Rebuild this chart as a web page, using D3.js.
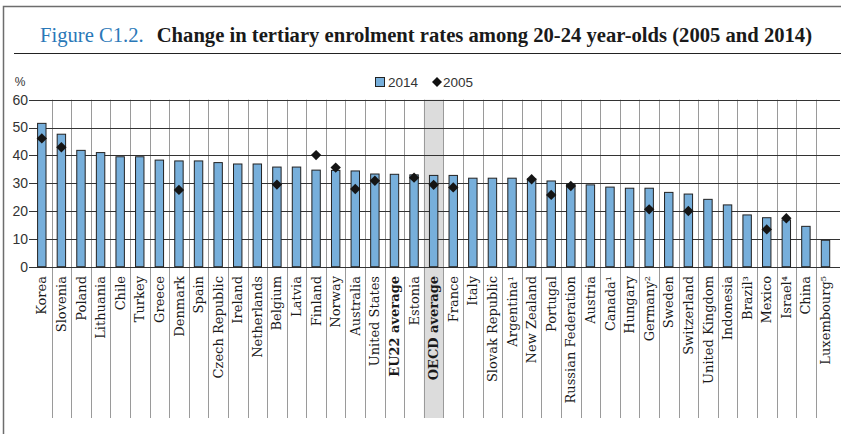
<!DOCTYPE html>
<meta charset="utf-8">
<style>
body { margin: 0; background: #fff; }
svg { display: block; }
.tick-label { font: 14px "Liberation Sans", sans-serif; fill: #333; }
.cat { font: 13px "DejaVu Serif", serif; fill: #1a1a1a; }
</style>
<body>
<svg width="841" height="434"></svg>
<script src="https://d3js.org/d3.v7.min.js"></script>
<script>

var countries = ["Korea", "Slovenia", "Poland", "Lithuania", "Chile", "Turkey", "Greece", "Denmark",
  "Spain", "Czech Republic", "Ireland", "Netherlands", "Belgium", "Latvia", "Finland", "Norway",
  "Australia", "United States", "EU22 average", "Estonia", "OECD average", "France", "Italy",
  "Slovak Republic", "Argentina\u00b9", "New Zealand", "Portugal", "Russian Federation", "Austria",
  "Canada\u00b9", "Hungary", "Germany\u00b2", "Sweden", "Switzerland", "United Kingdom", "Indonesia",
  "Brazil\u00b3", "Mexico", "Israel\u2074", "China", "Luxembourg\u2075"];

var v2014 = [51.5, 47.6, 41.8, 41.0, 39.5, 39.5, 38.3, 38.0, 38.0, 37.4, 36.9, 36.9, 35.8, 35.8,
  34.7, 34.6, 34.4, 33.3, 33.2, 33.0, 32.8, 32.8, 31.8, 31.8, 31.8, 31.5, 30.8, 29.6, 29.4, 28.6,
  28.2, 28.2, 26.7, 26.1, 24.2, 22.2, 18.6, 17.6, 16.8, 14.5, 9.5];

var v2005 = [46.1, 42.9, null, null, null, null, null, 27.6, null, null, null, null, 29.5, null,
  40.1, 35.6, 27.9, 30.9, null, 32.0, 29.4, 28.5, null, null, null, 31.4, 25.8, 29.0, null, null,
  null, 20.6, null, 20.0, null, null, null, 13.4, 17.4, null, null];

var yTicks = [0, 10, 20, 30, 40, 50, 60];
var averages = ["EU22 average", "OECD average"];
var highlight = "OECD average";

var svg = d3.select("svg");

var x = d3.scaleBand().domain(countries).range([32, 835.3]).padding(0);
var y = d3.scaleLinear().domain([0, 60]).range([266.7, 99.7]);
var gridBottom = 418, gridRight = 840;
var barW = x.bandwidth() * 0.43;

// frame
svg.append("path")
    .attr("d", "M3.5,434V6.5H841")
    .attr("fill", "none").attr("stroke", "#6d6d6d").attr("stroke-width", 1.5);
svg.append("line")
    .attr("x1", 14).attr("x2", 841).attr("y1", 53.5).attr("y2", 53.5)
    .attr("stroke", "#222").attr("stroke-width", 1.2);

// title
var title = svg.append("text")
    .attr("x", 40).attr("y", 42)
    .style("font-family", "'Liberation Serif', serif")
    .style("font-size", "20px");
title.append("tspan").attr("fill", "#2a78b8").text("Figure C1.2.");
title.append("tspan").attr("dx", 13).attr("fill", "#1a1a1a").attr("font-weight", "bold")
    .text("Change in tertiary enrolment rates among 20-24 year-olds (2005 and 2014)");
// fit title width to reference (x 40 -> 813)
var tw = title.node().getBBox().width;
title.style("font-size", (20 * 773 / tw) + "px");

// % label
svg.append("text").attr("class", "tick-label").attr("x", 20).attr("y", 86)
    .attr("text-anchor", "middle").style("font-size", "12px").text("%");

// legend
var lg = svg.append("g").attr("transform", "translate(375,82)");
lg.append("rect").attr("x", 0.5).attr("y", -4.5).attr("width", 9).attr("height", 9)
    .attr("fill", "#77afdb").attr("stroke", "#222").attr("stroke-width", 1);
lg.append("text").attr("class", "tick-label").attr("x", 13).attr("y", 5).style("font-size", "13.5px").text("2014");
lg.append("path").attr("d", d3.symbol(d3.symbolSquare, 50)())
    .attr("transform", "translate(62,0) rotate(45)").attr("fill", "#111");
lg.append("text").attr("class", "tick-label").attr("x", 68).attr("y", 5).style("font-size", "13.5px").text("2005");

// highlighted OECD column
svg.append("rect")
    .attr("x", x(highlight)).attr("y", y(60))
    .attr("width", x.bandwidth()).attr("height", gridBottom - y(60))
    .attr("fill", "#dcdcdc");

// vertical gridlines at category boundaries
svg.append("g").selectAll("line")
    .data(countries.slice(1))
    .join("line")
    .attr("x1", function(d) { return Math.round(x(d)) + 0.5; })
    .attr("x2", function(d) { return Math.round(x(d)) + 0.5; })
    .attr("y1", y(60)).attr("y2", gridBottom)
    .attr("stroke", "#9a9a9a").attr("stroke-width", 1);

// horizontal gridlines + tick labels
var yg = svg.append("g");
yg.selectAll("line")
    .data(yTicks)
    .join("line")
    .attr("x1", 29).attr("x2", gridRight)
    .attr("y1", function(d) { return Math.round(y(d)) + 0.5; })
    .attr("y2", function(d) { return Math.round(y(d)) + 0.5; })
    .attr("stroke", "#333").attr("stroke-width", 1);
yg.selectAll("text")
    .data(yTicks)
    .join("text")
    .attr("class", "tick-label")
    .attr("x", 28).attr("y", function(d) { return y(d); })
    .attr("dy", "0.35em").attr("text-anchor", "end")
    .text(function(d) { return d; });

// bars
svg.append("g").selectAll("rect")
    .data(countries)
    .join("rect")
    .attr("x", function(d) { return x(d) + (x.bandwidth() - barW) / 2; })
    .attr("y", function(d, i) { return y(v2014[i]); })
    .attr("width", barW)
    .attr("height", function(d, i) { return y(0) - y(v2014[i]); })
    .attr("fill", "#77afdb").attr("stroke", "#222").attr("stroke-width", 1);

// 2005 diamonds
svg.append("g").selectAll("path")
    .data(countries.map(function(d, i) { return {c: d, v: v2005[i]}; })
      .filter(function(d) { return d.v != null; }))
    .join("path")
    .attr("d", d3.symbol(d3.symbolSquare, 54)())
    .attr("transform", function(d) {
      return "translate(" + (x(d.c) + x.bandwidth() / 2) + "," + y(d.v) + ") rotate(45)";
    })
    .attr("fill", "#151515");

// category labels
svg.append("g").selectAll("text")
    .data(countries)
    .join("text")
    .attr("class", "cat")
    .attr("transform", function(d) {
      return "translate(" + (x(d) + x.bandwidth() / 2) + ",276) rotate(-90)";
    })
    .attr("dy", "0.35em")
    .attr("text-anchor", "end")
    .style("font-weight", function(d) { return averages.indexOf(d) >= 0 ? "bold" : "normal"; })
    .text(function(d) { return d; });

</script>
</body>
